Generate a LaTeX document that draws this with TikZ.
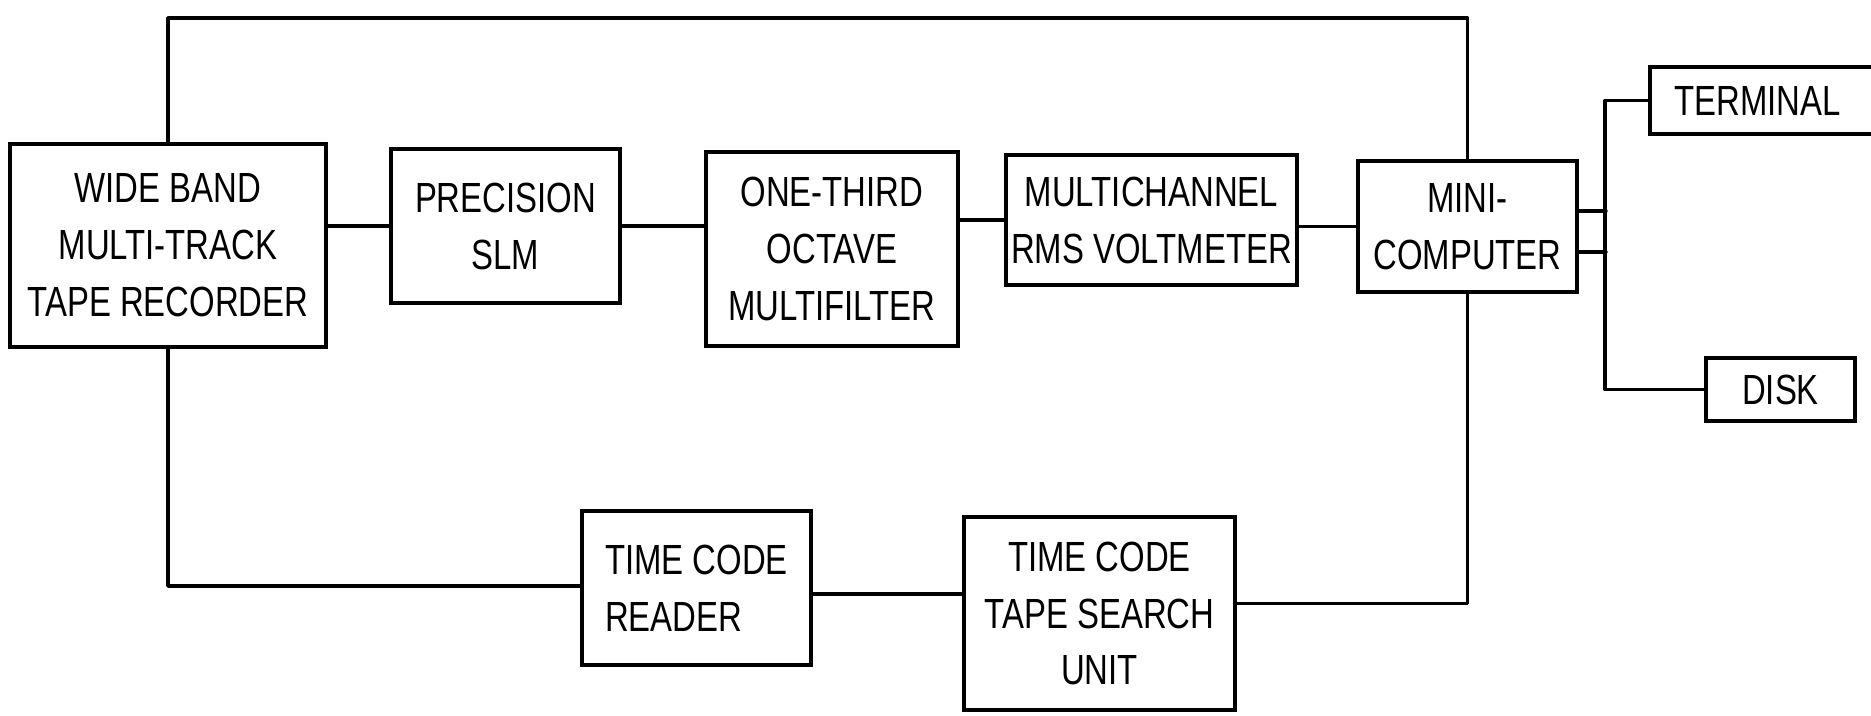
\documentclass[tikz,border=0pt]{standalone}
\usepackage{fontspec}
\setmainfont{Liberation Sans}[FakeStretch=0.78]
\usepackage{tikz}
\usetikzlibrary{calc}
\tikzset{
  box/.style={draw=black, line width=1.1pt, inner sep=0pt, align=center,
    font=\fontsize{12}{16.2}\selectfont},
  wire/.style={draw=black, line width=1pt, line cap=round, line join=round},
}
\begin{document}
\begin{tikzpicture}[x=1cm,y=1cm]
  \useasboundingbox (0,0) rectangle (18.71,-7.15);

  % upper chain
  \node[box,minimum width=3.16cm,minimum height=2.03cm] (rec) at (1.68,-2.455)
    {WIDE BAND\\MULTI-TRACK\\TAPE RECORDER};
  \node[box,minimum width=2.29cm,minimum height=1.54cm] (slm) at (5.055,-2.26)
    {PRECISION\\SLM};
  \node[box,minimum width=2.52cm,minimum height=1.94cm] (oct) at (8.32,-2.49)
    {ONE-THIRD\\OCTAVE\\MULTIFILTER};
  \node[box,minimum width=2.91cm,minimum height=1.30cm] (rms) at (11.515,-2.20)
    {MULTICHANNEL\\RMS VOLTMETER};
  \node[box,minimum width=2.19cm,minimum height=1.31cm] (mini) at (14.675,-2.265)
    {MINI-\\COMPUTER};

  % peripherals
  \node[box,minimum width=2.60cm,minimum height=0.67cm] (term) at (17.80,-1.005)
    {\hspace*{-0.45cm}TERMINAL};
  \node[box,minimum width=1.49cm,minimum height=0.63cm] (disk) at (17.805,-3.895)
    {DISK};

  % lower chain
  \node[box,minimum width=2.29cm,minimum height=1.54cm,align=left] (tcr) at (6.965,-5.88)
    {TIME CODE\\READER};
  \node[box,minimum width=2.71cm,minimum height=1.93cm] (tcs) at (10.995,-6.135)
    {TIME CODE\\TAPE SEARCH\\UNIT};

  \coordinate (top) at (0,-0.18);

  \draw[wire] (slm.west) -- (slm.west -| rec.east);
  \draw[wire] (slm.east) -- (slm.east -| oct.west);
  \draw[wire] (rms.west) -- (rms.west -| oct.east);
  \draw[wire] (mini.west) -- (mini.west -| rms.east);

  \draw[wire] (rec.north) -- (rec.north |- top) -| (mini.north);
  \draw[wire] (rec.south) |- ([yshift=0.2mm]tcr.west);
  \draw[wire] ([yshift=-0.6mm]tcr.east) -- ([yshift=-0.6mm]tcr.east -| tcs.west);
  \draw[wire] (mini.south) |- ([yshift=1mm]tcs.east);

  \draw[wire] ([yshift=1.55mm]mini.east) -- ++(0.27,0);
  \draw[wire] ([yshift=-2.55mm]mini.east) -- ++(0.27,0);
  \draw[wire] (term.west) -- ++(-0.43,0) |- (disk.west);
\end{tikzpicture}
\end{document}
